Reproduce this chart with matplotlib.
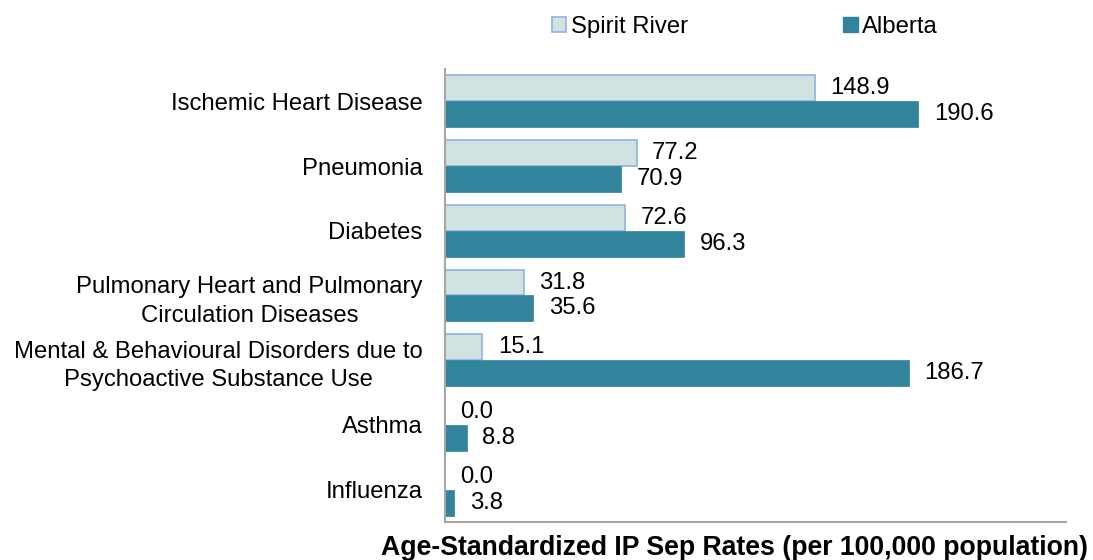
import numpy as np
import matplotlib
matplotlib.use('Agg')
from matplotlib import pyplot as plt
from matplotlib.patches import Patch

categories = ['Ischemic Heart Disease', 'Pneumonia', 'Diabetes',
              'Pulmonary Heart and Pulmonary\nCirculation Diseases',
              'Mental & Behavioural Disorders due to\nPsychoactive Substance Use',
              'Asthma', 'Influenza']
spirit_river = [148.9, 77.2, 72.6, 31.8, 15.1, 0.0, 0.0]
alberta = [190.6, 70.9, 96.3, 35.6, 186.7, 8.8, 3.8]
series_names = ['Spirit River', 'Alberta']
x_title = 'Age-Standardized IP Sep Rates (per 100,000 population)'

sr_face = '#d2e2e0'
sr_edge = '#8eb4e3'
ab_color = '#31849b'
spine_color = '#a6a6a6'
fs = 17.2

plt.rcParams['font.family'] = ['Liberation Sans', 'DejaVu Sans']

fig = plt.figure(figsize=(10.93, 5.6), dpi=100)
ax = fig.add_axes([0.4071, 0.0679, 0.5682, 0.8089])

y = np.arange(len(categories))
h = 0.4
b1 = ax.barh(y - h/2, spirit_river, height=h, color=sr_face, edgecolor=sr_edge, linewidth=1.2)
b2 = ax.barh(y + h/2, alberta, height=h, color=ab_color, edgecolor=ab_color, linewidth=0.5)

ax.bar_label(b1, labels=['%.1f' % v for v in spirit_river], padding=11, fontsize=fs)
ax.bar_label(b2, labels=['%.1f' % v for v in alberta], padding=11, fontsize=fs)

ax.set_xlim(0, 250)
ax.set_ylim(len(categories) - 0.5, -0.5)
ax.set_yticks(y)
ax.set_yticklabels(categories, fontsize=fs, multialignment='center', linespacing=1.4)
ax.tick_params(axis='y', length=0, pad=16)
ax.set_xticks([])

for s in ['top', 'right']:
	ax.spines[s].set_visible(False)
for s in ['left', 'bottom']:
	ax.spines[s].set_color(spine_color)
	ax.spines[s].set_linewidth(1.5)

# axis title sits a bit left of the axes centre in the original
fig.text(0.6716, 0.009, x_title, fontsize=19.2, fontweight='bold', ha='center', va='baseline')

handles = [Patch(facecolor=sr_face, edgecolor=sr_edge, linewidth=1.2),
           Patch(facecolor=ab_color, edgecolor=ab_color)]
fig.legend(handles, series_names, loc='center', bbox_to_anchor=(0.6816, 0.952),
           ncol=2, frameon=False, fontsize=fs, handlelength=0.6, handleheight=0.6,
           handletextpad=0.2, columnspacing=6.5)

fig.savefig('out.png', dpi=100)
